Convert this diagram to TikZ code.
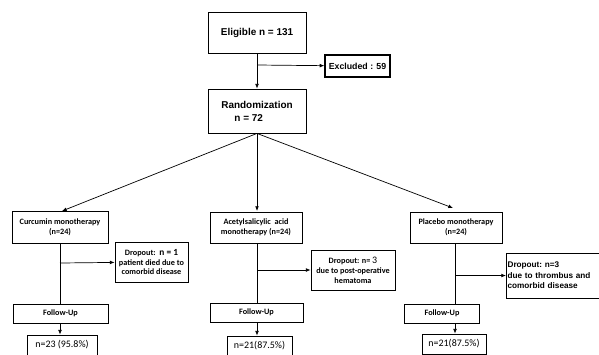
\documentclass[tikz,border=0pt]{standalone}
\usepackage{fontspec}
\setmainfont{Carlito}
\newfontfamily\arialfont{Liberation Sans}
\usetikzlibrary{positioning, arrows.meta}

\begin{document}
\begin{tikzpicture}[
    % GLOBAL CFG
    x=0.03cm, y=-0.03cm,
    >={Latex[length=4pt,width=3.2pt]},
    % Styles
    box/.style={% For main boxes
        rectangle,
        draw=black,
        line width=0.7pt,
        inner sep=1pt,
        align=center,
        font=\bfseries\fontsize{7}{8.5}\selectfont,
    },
    topbox/.style={% For upper boxes
        box,
        font=\arialfont\bfseries\fontsize{8.5}{11}\selectfont,
    },
    dropbox/.style={% For dropout boxes
        box,
        font=\bfseries\fontsize{7}{8.5}\selectfont,
    },
    resbox/.style={% For results
        box,
        font=\fontsize{8.5}{10}\selectfont,
    },
    ArrowC1/.style={% Connectors
        line width=0.6pt,
    },
    ]

    \useasboundingbox (0,0) rectangle (599,354);

    % Draw top boxes
    \node [topbox, minimum width=2.94cm, minimum height=1.23cm] (elig) at (257,32.5) {Eligible n = 131};
    \node [topbox, font=\arialfont\bfseries\fontsize{7.5}{9}\selectfont, minimum width=1.95cm, minimum height=0.66cm, line width=1pt] (excl) at (357.5,66) {Excluded : 59};
    \node [topbox, minimum width=2.94cm, minimum height=1.32cm] (rand) at (257,111) {Randomization\\ n = 72\hspace*{5mm}};

    % Draw group boxes named grp#
    \node [box, minimum width=2.88cm, minimum height=0.96cm] (grp1) at (60,227) {Curcumin monotherapy\\ (n=24)};
    \node [box, minimum width=2.76cm, minimum height=0.93cm] (grp2) at (256,227.5) {Acetylsalicylic\ \ acid\\ monotherapy (n=24)};
    \node [box, minimum width=2.76cm, minimum height=0.93cm] (grp3) at (456,227.5) {Placebo monotherapy\\ (n=24)};

    % Draw dropout boxes named drop#
    \node [dropbox, minimum width=2.19cm, minimum height=1.2cm] (drop1) at (151.5,262) {Dropout:\ \ {\fontsize{8}{8.5}\selectfont n = 1}\\ patient died due to\\ comorbid disease};
    \node [dropbox, minimum width=2.52cm, minimum height=1.2cm] (drop2) at (353,270) {Dropout: n= {\mdseries\fontsize{8.5}{8.5}\selectfont 3}\\ due to post-operative\\ hematoma};
    \node [dropbox, font=\arialfont\bfseries\fontsize{7}{9}\selectfont, align=left, anchor=west, minimum height=1.35cm, text width=3.3cm] (drop3) at (506,275.5) {Dropout:\ n=3\\ due to thrombus and\\ comorbid disease};

    % Draw follow-up boxes named fup#
    \node [box, minimum width=2.85cm, minimum height=0.57cm] (fup1) at (60.5,313.5) {Follow-Up};
    \node [box, minimum width=2.79cm, minimum height=0.57cm] (fup2) at (256.5,312.5) {Follow-Up};
    \node [box, minimum width=2.25cm, minimum height=0.57cm] (fup3) at (442,313.5) {Follow-Up};

    % Draw result boxes named res#
    \node [resbox, minimum width=2.1cm, minimum height=0.6cm] (res1) at (62,345) {n=23 (95.8\%)};
    \node [resbox, minimum width=1.95cm, minimum height=0.6cm] (res2) at (259.5,346) {n=21(87.5\%)};
    \node [resbox, minimum width=1.92cm, minimum height=0.6cm] (res3) at (454,344) {n=21(87.5\%)};

    % Connect all
    \coordinate (b0) at (257,65);
    \draw [->, ArrowC1] (elig) -- (rand);
    \draw [->, ArrowC1] (b0) -- (excl);

    % Randomization to groups
    \draw [->, ArrowC1] (rand.south) -- (62,211);
    \draw [->, ArrowC1] (rand.south) -- (257,211);
    \draw [->, ArrowC1] (rand.south) -- (453,208);

    % Trunks and dropouts
    \coordinate (b1) at (60,263);
    \coordinate (b2) at (257,270);
    \coordinate (b3) at (455,275.5);
    \draw [ArrowC1] (grp1.south -| b1) -- (fup1.north -| b1);
    \draw [ArrowC1] (grp2.south -| b2) -- (fup2.north -| b2);
    \draw [ArrowC1] (grp3.south -| b3) -- (fup3.north -| b3);
    \draw [->, ArrowC1] (b1) -- (drop1);
    \draw [->, ArrowC1] (b2) -- (drop2);
    \draw [->, ArrowC1] (b3) -- (drop3);

    % Follow-up to results
    \draw [->, ArrowC1] (fup1.south -| b1) -- (res1.north -| b1);
    \draw [->, ArrowC1] (fup2.south -| b2) -- (res2.north -| b2);
    \draw [->, ArrowC1] (fup3.south -| b3) -- (res3.north -| b3);

\end{tikzpicture}
\end{document}
